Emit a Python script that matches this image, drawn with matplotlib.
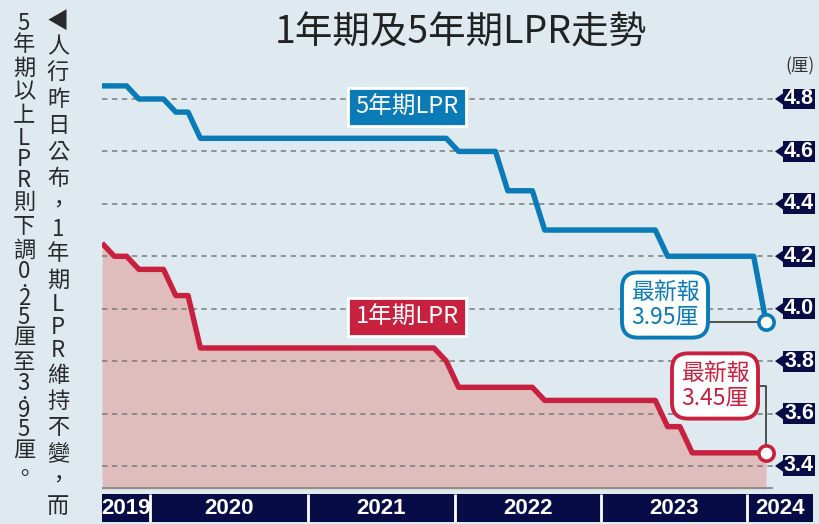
import matplotlib.pyplot as plt
import matplotlib.patches as mpatches
import numpy as np

# monthly LPR readings, Aug 2019 .. Feb 2024
lpr_1y = [4.25, 4.20, 4.20, 4.15, 4.15,
          4.15, 4.05, 4.05, 3.85, 3.85, 3.85, 3.85, 3.85, 3.85, 3.85, 3.85, 3.85,
          3.85, 3.85, 3.85, 3.85, 3.85, 3.85, 3.85, 3.85, 3.85, 3.85, 3.85, 3.80,
          3.70, 3.70, 3.70, 3.70, 3.70, 3.70, 3.70, 3.65, 3.65, 3.65, 3.65, 3.65,
          3.65, 3.65, 3.65, 3.65, 3.65, 3.55, 3.55, 3.45, 3.45, 3.45, 3.45, 3.45,
          3.45, 3.45]
lpr_5y = [4.85, 4.85, 4.85, 4.80, 4.80,
          4.80, 4.75, 4.75, 4.65, 4.65, 4.65, 4.65, 4.65, 4.65, 4.65, 4.65, 4.65,
          4.65, 4.65, 4.65, 4.65, 4.65, 4.65, 4.65, 4.65, 4.65, 4.65, 4.65, 4.65,
          4.60, 4.60, 4.60, 4.60, 4.45, 4.45, 4.45, 4.30, 4.30, 4.30, 4.30, 4.30,
          4.30, 4.30, 4.30, 4.30, 4.30, 4.20, 4.20, 4.20, 4.20, 4.20, 4.20, 4.20,
          4.20, 3.95]
y_ticks = [3.4, 3.6, 3.8, 4.0, 4.2, 4.4, 4.6, 4.8]
year_labels = ["2019", "2020", "2021", "2022", "2023", "2024"]
year_edges = [0, 3.9, 16.75, 28.7, 40.6, 52.45, 57.8]  # in months from Aug 2019

bg = "#deeaf0"
navy = "#070c47"
blue = "#0a7bb7"
red = "#c8213f"
pink = "#dfbdbd"
cjk = ["Noto Sans CJK TC", "DejaVu Sans"]
narrow = ["Liberation Sans Narrow", "Liberation Sans", "DejaVu Sans"]

# pixel helpers for placing annotations
PXM = 12.296
PPU = 262.1


def px2x(px):
    return (px - 102) / PXM


def py2y(py):
    return 4.8 - (py - 99) / PPU


y_bottom = py2y(489)
y_top = py2y(60)

fig = plt.figure(figsize=(8.19, 5.24), dpi=100, facecolor=bg)
ax = fig.add_axes([102 / 819, 35 / 524, 717 / 819, 429 / 524])
ax.set_facecolor(bg)
ax.set_xlim(0, 717 / PXM)
ax.set_ylim(y_bottom, y_top)
ax.axis("off")

x = np.arange(len(lpr_1y))
ax.fill_between(x, lpr_1y, y_bottom, color=pink, lw=0, zorder=1)
ax.hlines(y_ticks, 0, px2x(775), colors="#7a7a7a", linestyles=(0, (3.5, 3)), lw=1.1, zorder=2)
ax.hlines(y_bottom + 0.003, 0, px2x(773), colors="#8a8a8a", lw=1.3, zorder=2)
ax.plot(x, lpr_5y, color=blue, lw=3.9, zorder=4, solid_joinstyle="round", solid_capstyle="butt")
ax.plot(x, lpr_1y, color=red, lw=3.9, zorder=4, solid_joinstyle="round", solid_capstyle="butt")

# right-hand tick labels
for v in y_ticks:
    ax.add_patch(mpatches.Rectangle((px2x(783), v - 0.040), px2x(815) - px2x(783), 0.080,
                                    fc=navy, ec="none", clip_on=False, zorder=5))
    ax.add_patch(mpatches.Polygon([(px2x(775), v), (px2x(783.5), v + 0.023), (px2x(783.5), v - 0.023)],
                                  closed=True, fc=navy, ec="none", clip_on=False, zorder=5))
    ax.text(px2x(799), v, "%.1f" % v, color="white", fontsize=15.5, fontweight="bold",
            family=narrow, ha="center", va="center", zorder=6, clip_on=False)

# series labels
ax.text(px2x(407), py2y(107), "5年期LPR", color="white", fontsize=17, family=cjk,
        ha="center", va="center", zorder=6,
        bbox=dict(boxstyle="square,pad=0.3", fc=blue, ec="white", lw=2))
ax.text(px2x(407), py2y(317), "1年期LPR", color="white", fontsize=17, family=cjk,
        ha="center", va="center", zorder=6,
        bbox=dict(boxstyle="square,pad=0.3", fc=red, ec="white", lw=2))

# latest-value callouts
ax.plot([px2x(708), x[-1]], [lpr_5y[-1], lpr_5y[-1]], color="#444444", lw=1.3, zorder=3)
ax.plot([px2x(757), x[-1], x[-1]], [py2y(386), py2y(386), lpr_1y[-1]], color="#444444", lw=1.3, zorder=3)
ax.text(px2x(665), py2y(305), "最新報\n3.95厘", color=blue, fontsize=16.5, family=cjk,
        ha="center", va="center", linespacing=1.1, zorder=7,
        bbox=dict(boxstyle="round,pad=0.38,rounding_size=0.7", fc="white", ec=blue, lw=2.8))
ax.text(px2x(715), py2y(386), "最新報\n3.45厘", color=red, fontsize=16.5, family=cjk,
        ha="center", va="center", linespacing=1.1, zorder=7,
        bbox=dict(boxstyle="round,pad=0.38,rounding_size=0.7", fc="white", ec=red, lw=2.8))
ax.plot(x[-1], lpr_5y[-1], "o", ms=11, mfc="white", mec=blue, mew=2.6, zorder=8)
ax.plot(x[-1], lpr_1y[-1], "o", ms=11, mfc="white", mec=red, mew=2.6, zorder=8)

# year bar
ax2 = fig.add_axes([102 / 819, 2 / 524, 717 / 819, 28 / 524])
ax2.set_xlim(0, 717 / PXM)
ax2.set_ylim(0, 1)
ax2.axis("off")
ax2.bar(year_edges[0], 1, width=year_edges[-1] - year_edges[0], align="edge", color=navy, lw=0)
ax2.vlines(year_edges[1:-1], 0, 1, colors="white", lw=2)
for i, lab in enumerate(year_labels):
    ax2.text((year_edges[i] + year_edges[i + 1]) / 2, 0.5, lab, color="white", fontsize=16,
             fontweight="bold", family=narrow, ha="center", va="center")

# titles
fig.text(461 / 819, 1 - 33 / 524, "1年期及5年期LPR走勢", fontsize=27, color="#222222",
         family=cjk, ha="center", va="center")
fig.text(800 / 819, 1 - 66 / 524, "(厘)", fontsize=12.5, color="#333333",
         family=cjk, ha="center", va="center")


# vertical caption, one char at a time
def vertical(text, xpx, top, cjk_adv, latin_adv, digit_adv, dot_adv):
    y = top
    for ch in text:
        if ch == ".":
            # the dot sits on its baseline; put the baseline just under the slot centre
            fig.text(xpx / 819, 1 - (y + dot_adv / 2 + 2) / 524, ch, fontsize=16,
                     color="#2a2a2a", family=cjk, ha="center", va="baseline")
            y += dot_adv
            continue
        if ch.isdigit():
            adv = digit_adv
        elif ch.isascii():
            adv = latin_adv
        else:
            adv = cjk_adv
        fig.text(xpx / 819, 1 - (y + adv / 2) / 524, ch, fontsize=16, color="#2a2a2a",
                 family=cjk, ha="center", va="center")
        y += adv


vertical("◀人行昨日公布，1年期LPR維持不變，而", 58, 8, 26.2, 23, 23, 10)
vertical("5年期以上LPR則下調0.25厘至3.95厘。", 24, 14, 23.8, 21, 18.5, 9)

plt.savefig("out.png", dpi=100, facecolor=bg)
